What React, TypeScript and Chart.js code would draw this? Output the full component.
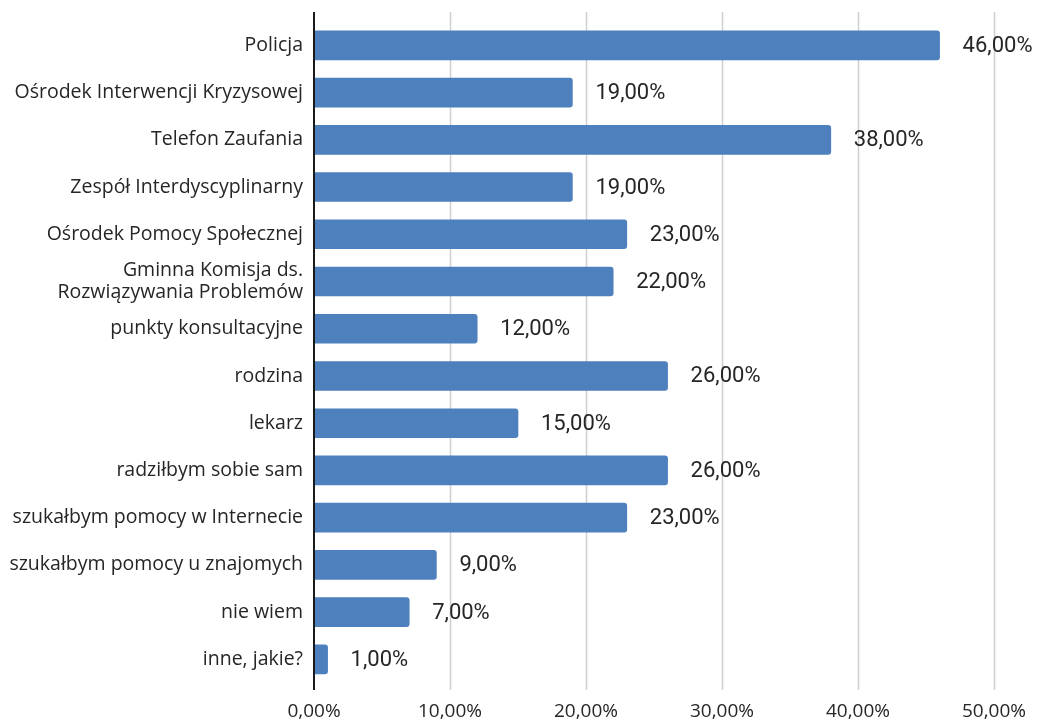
import React, { useEffect, useRef } from "react";
import { Chart, registerables } from "chart.js";

Chart.register(...registerables);

const categories: (string | string[])[] = [
  "Policja",
  "Ośrodek Interwencji Kryzysowej",
  "Telefon Zaufania",
  "Zespół Interdyscyplinarny",
  "Ośrodek Pomocy Społecznej",
  ["Gminna Komisja ds.", "Rozwiązywania Problemów"],
  "punkty konsultacyjne",
  "rodzina",
  "lekarz",
  "radziłbym sobie sam",
  "szukałbym pomocy w Internecie",
  "szukałbym pomocy u znajomych",
  "nie wiem",
  "inne, jakie?",
];
const values = [46, 19, 38, 19, 23, 22, 12, 26, 15, 26, 23, 9, 7, 1];
const gridValues = [10, 20, 30, 40, 50];

const fmt = (v: number) => v.toFixed(2).replace(".", ",") + "%";

const LINE_TOP = 12;
const LINE_BOTTOM = 690;

const gridPlugin = {
  id: "customGrid",
  beforeDatasetsDraw(chart: any) {
    const ctx = chart.ctx;
    const x = chart.scales.x;
    ctx.save();
    ctx.strokeStyle = "#cfcfcf";
    ctx.lineWidth = 1.5;
    gridValues.forEach((v) => {
      const px = Math.round(x.getPixelForValue(v)) + 0.5;
      ctx.beginPath();
      ctx.moveTo(px, LINE_TOP);
      ctx.lineTo(px, LINE_BOTTOM);
      ctx.stroke();
    });
    ctx.restore();
  },
  afterDatasetsDraw(chart: any) {
    const ctx = chart.ctx;
    const x = chart.scales.x;
    ctx.save();
    ctx.strokeStyle = "#1a1a1a";
    ctx.lineWidth = 2;
    const px = Math.round(x.getPixelForValue(0));
    ctx.beginPath();
    ctx.moveTo(px, LINE_TOP);
    ctx.lineTo(px, LINE_BOTTOM);
    ctx.stroke();

    const meta = chart.getDatasetMeta(0);
    ctx.fillStyle = "#262626";
    ctx.font = "22px Roboto";
    ctx.textBaseline = "middle";
    ctx.textAlign = "left";
    meta.data.forEach((bar: any, i: number) => {
      ctx.fillText(fmt(values[i]), bar.x + 23, bar.y + 1);
    });
    ctx.restore();
  },
};

export default function App() {
  const ref = useRef<HTMLCanvasElement>(null);
  useEffect(() => {
    document.body.style.margin = "0";
    const chart = new Chart(ref.current!, {
      type: "bar",
      data: {
        labels: categories as any,
        datasets: [
          {
            data: values,
            backgroundColor: "#4e80bd",
            borderRadius: 3,
            borderSkipped: "start",
            barThickness: 29,
          },
        ],
      },
      options: {
        indexAxis: "y",
        animation: false,
        responsive: false,
        maintainAspectRatio: false,
        layout: { padding: { top: 19, right: 43, left: 0, bottom: 0 } },
        plugins: { legend: { display: false }, tooltip: { enabled: false } },
        scales: {
          x: {
            min: 0,
            max: 50,
            ticks: {
              stepSize: 10,
              callback: (v: any) => fmt(Number(v)),
              color: "#262626",
              font: { family: "'Open Sans', sans-serif", size: 19 },
              padding: 17,
            },
            grid: { display: false, drawTicks: false },
            border: { display: false },
            afterFit: (s: any) => {
              s.height = 40;
              s.paddingLeft = 0;
              s.paddingRight = 0;
            },
          },
          y: {
            ticks: {
              color: "#262626",
              font: { family: "'Open Sans', sans-serif", size: 19.5, lineHeight: 1.1 },
              padding: 11,
              autoSkip: false,
            },
            grid: { display: false, drawTicks: false },
            border: { display: false },
            afterFit: (s: any) => {
              s.width = 314;
            },
          },
        },
      },
      plugins: [gridPlugin],
    });
    return () => chart.destroy();
  }, []);
  return (
    <div style={{ width: 1037, height: 723, background: "#fff" }}>
      <canvas ref={ref} width={1037} height={723} />
    </div>
  );
}
